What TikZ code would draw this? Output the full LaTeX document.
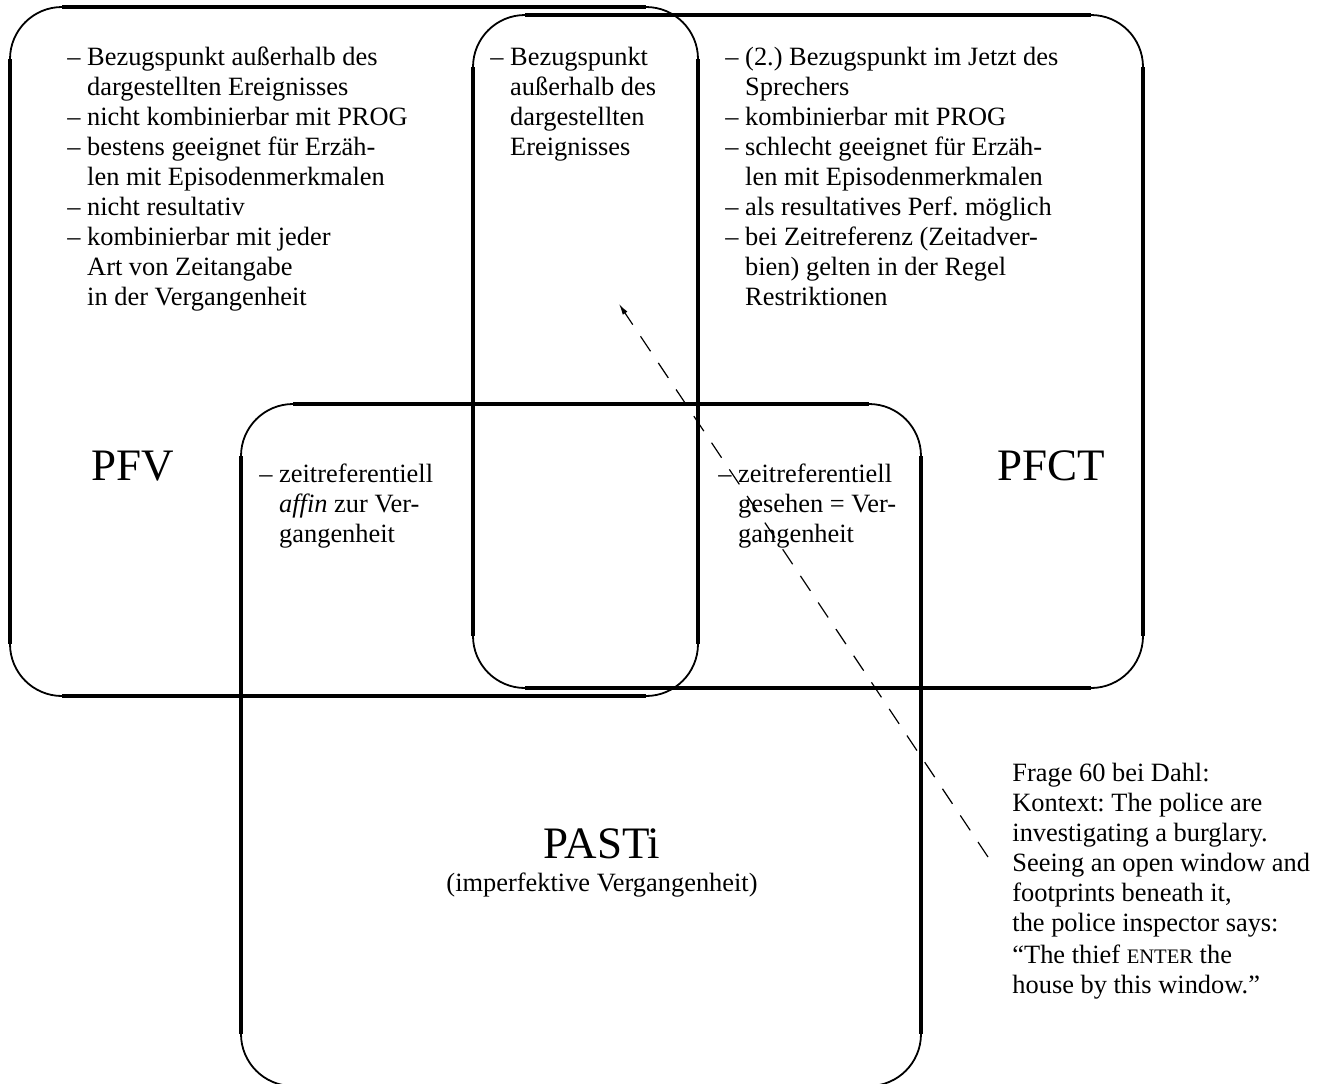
\documentclass[tikz,border=0pt]{standalone}
\usepackage{fontspec}
\setmainfont{Liberation Serif}
\usetikzlibrary{arrows.meta}
\frenchspacing
\newcommand\hangind{\hphantom{–\ }}
\newcommand\vennbox[4]{%
  \draw[corner] (#1,#2) rectangle (#3,#4);
  \draw[edge] (#1+52,#2) -- (#3-52,#2) (#3,#2+52) -- (#3,#4-52)
              (#3-52,#4) -- (#1+52,#4) (#1,#4-52) -- (#1,#2+52);}
\begin{document}
\begin{tikzpicture}[x=0.5pt,y=-0.5pt,
  corner/.style={line width=0.9pt, rounded corners=26pt},
  edge/.style={line width=1.75pt},
  txt/.style={inner sep=0pt, anchor=base west, font=\fontsize{13.2pt}{15pt}\selectfont\frenchspacing},
  big/.style={inner sep=0pt, anchor=base west, font=\fontsize{22.5pt}{27pt}\selectfont},
  pointer/.style={line width=0.6pt, dash pattern=on 9pt off 7pt, -{Latex[length=5.5pt,width=2.8pt]}}]
\useasboundingbox (0,0) rectangle (1328,1083);
\clip (0,0) rectangle (1328,1083);

% boxes
\vennbox{10}{7}{698}{696}
\vennbox{473}{15}{1143}{688}
\vennbox{241}{404}{921}{1086}

% text blocks
\node[txt] (pfvtext) at (67,65) {\begin{tabular}[t]{@{}l@{}}
– Bezugspunkt außerhalb des\\
\hangind dargestellten Ereignisses\\
– nicht kombinierbar mit PROG\\
– bestens geeignet für Erzäh-\\
\hangind len mit Episodenmerkmalen\\
– nicht resultativ\\
– kombinierbar mit jeder\\
\hangind Art von Zeitangabe\\
\hangind in der Vergangenheit
\end{tabular}};

\node[txt] (midtext) at (490,65) {\begin{tabular}[t]{@{}l@{}}
– Bezugspunkt\\
\hangind außerhalb des\\
\hangind dargestellten\\
\hangind Ereignisses
\end{tabular}};

\node[txt] (pfcttext) at (725,65) {\begin{tabular}[t]{@{}l@{}}
– (2.) Bezugspunkt im Jetzt des\\
\hangind Sprechers\\
– kombinierbar mit PROG\\
– schlecht geeignet für Erzäh-\\
\hangind len mit Episodenmerkmalen\\
– als resultatives Perf. möglich\\
– bei Zeitreferenz (Zeitadver-\\
\hangind bien) gelten in der Regel\\
\hangind Restriktionen
\end{tabular}};

\node[txt] (lowleft) at (259,482) {\begin{tabular}[t]{@{}l@{}}
– zeitreferentiell\\
\hangind \emph{affin} zur Ver-\\
\hangind gangenheit
\end{tabular}};

\node[txt] (lowright) at (718,482) {\begin{tabular}[t]{@{}l@{}}
– zeitreferentiell\\
\hangind gesehen = Ver-\\
\hangind gangenheit
\end{tabular}};

% big labels
\node[big] (pfv) at (91,480) {PFV};
\node[big] (pfct) at (997,480) {PFCT};
\node[big, anchor=base] (pasti) at (602,858) {PASTi};
\node[txt, anchor=base] (pastisub) at (602,891) {(imperfektive Vergangenheit)};

% note
\node[txt] (note) at (1012,781) {\begin{tabular}[t]{@{}l@{}}
Frage 60 bei Dahl:\\
Kontext: The police are\\
investigating a burglary.\\
Seeing an open window and\\
footprints beneath it,\\
the police inspector says:\\[1pt]
“The thief {\fontsize{10.3pt}{15pt}\selectfont ENTER} the\\
house by this window.”
\end{tabular}};

% dashed pointer
\coordinate (pstart) at (988,857);
\coordinate (ptip) at (619,304);
\draw[pointer] (pstart) -- (ptip);
\end{tikzpicture}
\end{document}
